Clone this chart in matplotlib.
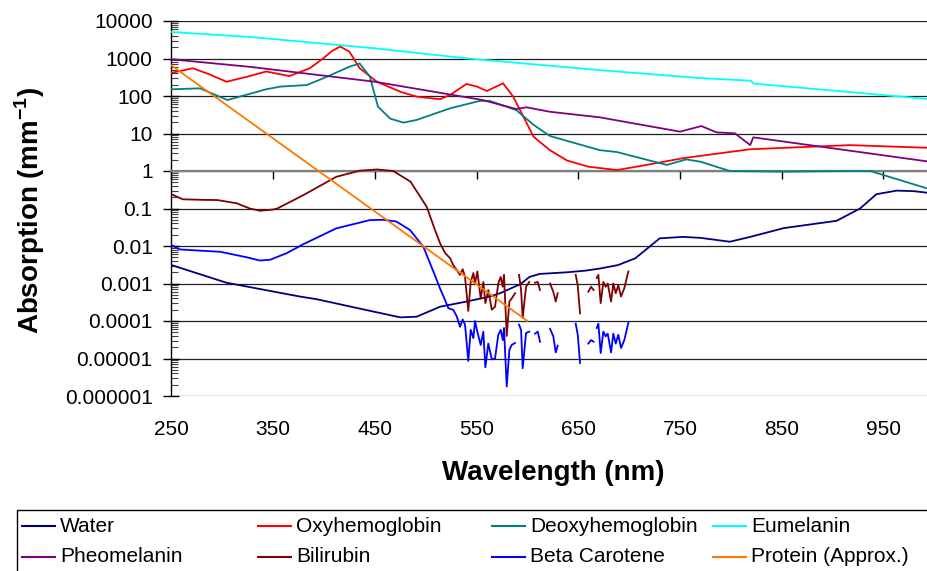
import numpy as np
import matplotlib.pyplot as plt
from matplotlib.lines import Line2D
from matplotlib.patches import Rectangle
from matplotlib.ticker import LogLocator, NullFormatter

plt.rcParams['font.family'] = ['Liberation Sans', 'DejaVu Sans']
plt.rcParams['mathtext.fontset'] = 'custom'
plt.rcParams['mathtext.rm'] = 'Liberation Sans'
plt.rcParams['mathtext.bf'] = 'Liberation Sans:bold'

nan = np.nan

# --- data (wavelength nm, absorption mm^-1) ---
water_nm = [250, 304, 376, 393, 440, 475, 491, 514, 540, 563, 573, 593, 602, 612, 640, 657,
            671, 689, 706, 720, 730, 753, 770, 799, 819, 852, 904, 927, 943, 963, 980, 1000]
water = [0.0031, 0.00105, 0.00045, 0.00038, 0.0002, 0.000125, 0.00013, 0.00024, 0.00033, 0.00045,
         0.00055, 0.00096, 0.0015, 0.0018, 0.002, 0.0022, 0.0025, 0.0031, 0.0047, 0.0096, 0.016,
         0.0175, 0.0165, 0.013, 0.0175, 0.03, 0.047, 0.1, 0.24, 0.30, 0.29, 0.25]

oxy_nm = [250, 271, 287, 304, 325, 343, 366, 386, 399, 408, 416, 425, 435, 452, 475, 491, 514,
          524, 540, 550, 560, 576, 586, 606, 622, 639, 660, 688, 720, 753, 819, 917, 1000]
oxy = [415, 550, 380, 240, 330, 450, 340, 550, 1000, 1600, 2080, 1510, 550, 240, 130, 96, 82,
       107, 209, 180, 136, 218, 96, 8.2, 3.6, 1.9, 1.3, 1.06, 1.5, 2.2, 3.8, 4.9, 4.1]

deoxy_nm = [250, 278, 305, 343, 357, 383, 399, 425, 435, 445, 453, 465, 478, 491, 524, 553, 563,
            589, 606, 622, 671, 688, 737, 756, 770, 799, 852, 917, 937, 950, 1000]
deoxy = [151, 160, 78, 151, 178, 196, 295, 605, 740, 330, 52, 25, 19.5, 23, 47, 74, 74,
         42, 17, 8.6, 3.6, 3.2, 1.45, 2.04, 1.77, 1.0, 0.96, 1.0, 1.0, 0.78, 0.3]

eumel_nm = [250, 330, 450, 540, 671, 770, 820, 822, 900, 1000]
eumel = [5100, 3700, 1870, 1010, 490, 300, 255, 215, 140, 80]

pheo_nm = [250, 327, 450, 556, 589, 599, 622, 671, 750, 771, 786, 804, 819, 822, 1000]
pheo = [950, 600, 240, 78, 45, 50, 38, 27, 11.2, 15.8, 10.7, 10.1, 4.9, 7.9, 1.7]

bili_nm = [250, 261, 281, 295, 314, 327, 337, 350, 354, 380, 412, 435, 452, 468, 485, 501, 509,
           514, 519, 524, 527, 533.7, 536.3, 538.6, 541.8, 544.2, 546.8, 548.4, 550.7, 554,
           556.6, 558.6, 561.5, 564.9, 568.1, 571.3, 573.7, 575.7, 576.9, 579.6, 582.2, 584.5,
           587.8, 589.8, 591.7, 593.7, 595.3, 598.6, 601.8, 604.5, 607.4, 610.1, 612.3, 617,
           622.2, 625.4, 627.8, 629.7, 640, 647.4, 649.4, 651.7, 656, 659.8, 662.5, 665, 666.5,
           668.1, 669.7, 672, 674.6, 676.9, 678.9, 682.2, 684.4, 686.8, 689.3, 692, 695.2, 699.2]
bili = [0.24, 0.176, 0.17, 0.168, 0.138, 0.1, 0.087, 0.094, 0.1, 0.23, 0.7, 1.02, 1.1, 1.0, 0.52,
        0.11, 0.027, 0.012, 0.0065, 0.0047, 0.0031, 0.0017, 0.0024, 0.0015, 0.000185, 0.0011,
        0.0019, 0.001, 0.0021, 0.0004, 0.0011, 0.0003, 0.00067, 0.0002, 0.00024, 0.001, 0.0015,
        0.00082, 0.0017, 0.00004, 0.00033, 0.0004, 0.00055, nan, 0.0017, 0.00067, 0.00012,
        0.00082, 0.0011, nan, 0.00105, 0.0011, 0.00067, nan, 0.001, 0.0006, 0.00033, 0.00055,
        nan, 0.0017, 0.0009, 0.00016, nan, 0.0006, 0.00082, 0.00067, nan, 0.0014, 0.0017,
        0.0003, 0.0011, 0.00082, 0.001, 0.00033, 0.001, 0.00055, 0.0009, 0.00045, 0.00075, 0.0021]

beta_nm = [250, 258, 298, 324, 337, 347, 363, 380, 412, 445, 458, 471, 484.5, 497.6, 510.8, 514,
           518.8, 522.2, 527.1, 530.4, 533.7, 536.3, 538.6, 541.8, 544.2, 546.8, 548.4, 550.7,
           554, 556.6, 558.6, 561.5, 564.9, 568.1, 571.3, 573.7, 575.7, 576.9, 579.6, 582.2,
           584.5, 587.8, 589.8, 591.7, 593.7, 595.3, 598.6, 601.8, 604.5, 607.4, 610.1, 612.3,
           617, 622.2, 625.4, 627.8, 629.7, 640, 647.4, 649.4, 651.7, 656, 659.8, 662.5, 665,
           666.5, 668.1, 669.7, 672, 674.6, 676.9, 678.9, 682.2, 684.4, 686.8, 689.3, 692,
           695.2, 699.2]
beta = [0.0106, 0.0081, 0.007, 0.005, 0.0041, 0.0043, 0.0064, 0.0113, 0.0295, 0.049, 0.05, 0.045,
        0.0267, 0.0096, 0.00124, 0.00074, 0.00037, 0.00022, 0.000197, 0.000134, 7e-5, 1.1e-4,
        8e-5, 8.6e-6, 5.8e-5, 3.5e-5, 1e-4, 5.2e-5, 2.3e-5, 5.2e-5, 5.8e-6, 2.5e-5, 9.5e-6,
        1.0e-5, 4.3e-5, 5.8e-5, 3.1e-5, 6.5e-5, 1.8e-6, 1.7e-5, 2.3e-5, 2.6e-5, nan, 8e-5,
        5.8e-5, 5.5e-6, 4.8e-5, 5.2e-5, nan, 4.6e-5, 5.2e-5, 2.8e-5, nan, 6.2e-5, 3.9e-5,
        1.45e-5, 2.2e-5, nan, 8.5e-5, 4.4e-5, 7.6e-6, nan, 2.5e-5, 3.1e-5, 2.8e-5, nan, 6.5e-5,
        8.5e-5, 1.4e-5, 5.2e-5, 3.9e-5, 4.6e-5, 1.45e-5, 4.6e-5, 2.5e-5, 4.3e-5, 1.9e-5,
        3.1e-5, 9e-5]

protein_nm = [250, 600]
protein = [650, 0.0001]

names = ['Water', 'Oxyhemoglobin', 'Deoxyhemoglobin', 'Eumelanin',
         'Pheomelanin', 'Bilirubin', 'Beta Carotene', 'Protein (Approx.)']
colors = ['#000080', '#FF0000', '#008080', '#00FFFF',
          '#800080', '#800000', '#0000FF', '#FF7700']
series = [(water_nm, water), (oxy_nm, oxy), (deoxy_nm, deoxy), (eumel_nm, eumel),
          (pheo_nm, pheo), (bili_nm, bili), (beta_nm, beta), (protein_nm, protein)]

xticks = [250, 350, 450, 550, 650, 750, 850, 950]
ylabels = ['0.000001', '0.00001', '0.0001', '0.001', '0.01', '0.1',
           '1', '10', '100', '1000', '10000']

W, H = 928, 571
fig = plt.figure(figsize=(W / 100, H / 100), dpi=100)
ax = fig.add_axes([171.5 / W, (H - 396) / H, (934.3 - 171.5) / W, 375 / H])

for (x, y), c in zip(series, colors):
    ax.plot(x, y, color=c, lw=1.3, zorder=3)

ax.set_yscale('log')
ax.set_ylim(1e-6, 1e4)
ax.set_xlim(250, 1000)

ax.set_yticks(10.0 ** np.arange(-6, 5))
ax.set_yticklabels(ylabels)
ax.yaxis.set_minor_locator(LogLocator(base=10, subs=range(2, 10), numticks=20))
ax.yaxis.set_minor_formatter(NullFormatter())
ax.tick_params(axis='y', which='major', direction='inout', length=11, width=1,
               labelsize=15, pad=8)
ax.tick_params(axis='y', which='minor', direction='in', length=5, width=0.8, color='#404040')
ax.grid(axis='y', which='major', color='#202020', lw=0.9)
ax.set_axisbelow(True)

for s in ['top', 'right']:
    ax.spines[s].set_visible(False)
ax.spines['left'].set_linewidth(1)
ax.spines['bottom'].set_position(('data', 1))
ax.spines['bottom'].set_color('#808080')
ax.spines['bottom'].set_linewidth(1.6)
ax.set_xticks(xticks)
ax.tick_params(axis='x', direction='out', length=6, width=1, color='black', labelbottom=False)

sec = ax.secondary_xaxis(0)
sec.set_xticks(xticks)
sec.tick_params(length=0, labelsize=15, pad=17)
sec.spines['bottom'].set_visible(False)

fig.text(553 / W, (H - 473) / H, 'Wavelength (nm)', ha='center', va='center',
         fontsize=20, fontweight='bold')
fig.text(30 / W, (H - 210) / H, r'Absorption (mm$^{\mathbf{-1}}$)', rotation=90,
         ha='center', va='center', fontsize=20, fontweight='bold')

# legend box (Excel style, equal columns)
fig.add_artist(Rectangle((17 / W, -0.05), 1.0, (H - 510) / H + 0.05,
                         transform=fig.transFigure, fill=False, ec='black', lw=1))
col_x = [22, 258, 492, 713]
row_y = [526, 557]
for i, (name, c) in enumerate(zip(names, colors)):
    x0 = col_x[i % 4]
    y0 = (H - row_y[i // 4]) / H
    fig.add_artist(Line2D([x0 / W, (x0 + 33) / W], [y0, y0], color=c, lw=1.5,
                          transform=fig.transFigure))
    fig.text((x0 + 38) / W, y0, name, ha='left', va='center', fontsize=15)

fig.savefig('out.png', dpi=100)
